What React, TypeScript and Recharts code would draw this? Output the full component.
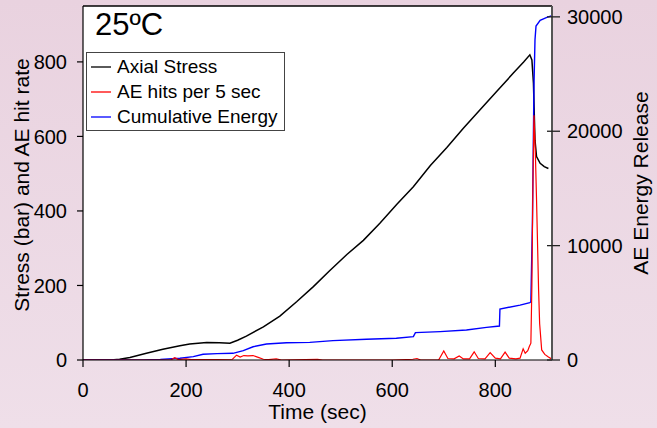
import React from 'react';
import { LineChart, Line, XAxis, YAxis, CartesianGrid, Legend, ReferenceLine, Label } from 'recharts';

// Axial stress (bar) vs time (sec)
const stressTime = [0, 40, 60, 71, 91, 123, 155, 188, 207, 240, 265, 285, 300, 317, 350, 382, 415, 447, 479, 512, 544, 576, 609, 641, 674, 706, 738, 770, 803, 835, 855, 867, 871, 874, 877, 880, 887, 895, 903];
const stressValue = [0, 0, 1, 2, 7, 18, 29, 38, 43, 47, 46, 45, 53, 64, 89, 118, 157, 197, 240, 283, 321, 367, 418, 465, 522, 570, 622, 671, 721, 770, 800, 819, 805, 743, 590, 546, 528, 519, 514];

// AE hits per 5 sec vs time
const hitsTime = [0, 170, 178, 185, 200, 210, 290, 298, 305, 312, 320, 330, 340, 350, 360, 375, 385, 455, 465, 600, 640, 648, 655, 690, 700, 708, 720, 730, 738, 750, 759, 767, 780, 790, 800, 810, 819, 827, 840, 848, 854, 858, 863, 866, 869, 871, 873, 875, 878, 880, 884, 886, 890, 896, 903, 909];
const hitsValue = [0, 0, 6, 1, 3, 1, 2, 13, 8, 12, 11, 12, 7, 2, 1, 3, 0, 2, 0, 0, 2, 4, 0, 0, 24, 4, 3, 11, 3, 3, 22, 4, 3, 20, 5, 3, 21, 5, 3, 5, 30, 18, 25, 36, 45, 200, 480, 657, 540, 430, 188, 98, 27, 15, 8, 3];

// Cumulative AE energy vs time
const energyTime = [0, 117, 150, 188, 214, 233, 260, 291, 311, 330, 356, 395, 440, 485, 550, 608, 641, 645, 693, 744, 783, 808, 809, 848, 867, 869, 872, 875, 877, 879, 887, 900, 910];
const energyValue = [0, 0, 50, 150, 290, 500, 560, 585, 815, 1160, 1400, 1510, 1545, 1690, 1810, 1900, 2040, 2390, 2480, 2620, 2850, 2970, 4460, 4800, 5010, 5100, 12000, 24000, 28000, 29200, 29700, 29950, 30100];

const timeTicks = [0, 200, 400, 600, 800];
const stressTicks = [0, 200, 400, 600, 800];
const energyTicks = [0, 10000, 20000, 30000];

const legendNames = ['Axial Stress', 'AE hits per 5 sec', 'Cumulative Energy'];
const legendColors = ['#000000', '#ff0000', '#0000ff'];

const stressData = stressTime.map((t, i) => ({ t, v: stressValue[i] }));
const hitsData = hitsTime.map((t, i) => ({ t, v: hitsValue[i] }));
const energyData = energyTime.map((t, i) => ({ t, v: energyValue[i] }));

const FONT = '"Liberation Sans", Arial, sans-serif';

const XTick = (props: any) => {
  const { x, y, payload } = props;
  return (
    <text x={x} y={y + 28} textAnchor="middle" fontSize={20} fontFamily={FONT} fill="#000">
      {payload.value}
    </text>
  );
};

const LeftTick = (props: any) => {
  const { x, y, payload } = props;
  return (
    <text x={x - 8} y={y} dy="0.36em" textAnchor="end" fontSize={20} fontFamily={FONT} fill="#000">
      {payload.value}
    </text>
  );
};

const RightTick = (props: any) => {
  const { x, y, payload } = props;
  return (
    <g>
      <line x1={x - 5} y1={y} x2={x + 8} y2={y} stroke="#222" strokeWidth={1.3} />
      <text x={x + 15} y={y} dy="0.36em" textAnchor="start" fontSize={20} fontFamily={FONT} fill="#000">
        {payload.value}
      </text>
    </g>
  );
};

const LegendBox = () => {
  return (
    <div
      style={{
        border: '1.3px solid #444',
        background: '#fff',
        width: 199,
        height: 79,
        boxSizing: 'border-box',
        fontFamily: FONT,
        fontSize: 19,
        color: '#000',
        paddingTop: 1,
      }}
    >
      {legendNames.map((name, i) => (
        <div key={name} style={{ display: 'flex', alignItems: 'center', height: 25, lineHeight: '25px' }}>
          <svg width={20} height={4} style={{ marginLeft: 4, marginRight: 6 }}>
            <line x1={0} y1={2} x2={20} y2={2} stroke={legendColors[i]} strokeWidth={1.3} />
          </svg>
          <span>{name}</span>
        </div>
      ))}
    </div>
  );
};

export default function App() {
  return (
    <div
      style={{
        position: 'absolute',
        left: 0,
        top: 0,
        width: 657,
        height: 428,
        background: 'linear-gradient(180deg, #e9d2df 0%, #efdfe9 100%)',
        overflow: 'hidden',
      }}
    >
      <LineChart width={657} height={428} margin={{ top: 6, right: 0, bottom: 0, left: 0 }}>
        <CartesianGrid horizontal={false} vertical={false} fill="#ffffff" />
        <XAxis
          dataKey="t"
          type="number"
          domain={[0, 910]}
          ticks={timeTicks}
          allowDataOverflow
          height={68}
          tickSize={7}
          tick={<XTick />}
          axisLine={{ stroke: '#000', strokeWidth: 1.2 }}
          tickLine={{ stroke: '#000', strokeWidth: 1.2 }}
        >
          <Label
            content={() => (
              <text x={317.5} y={419} textAnchor="middle" fontSize={21} fontFamily={FONT} fill="#000">
                Time (sec)
              </text>
            )}
          />
        </XAxis>
        <YAxis
          yAxisId="left"
          orientation="left"
          type="number"
          domain={[0, 950]}
          ticks={stressTicks}
          allowDataOverflow
          width={83}
          tickSize={6}
          tick={<LeftTick />}
          axisLine={{ stroke: '#000', strokeWidth: 1.2 }}
          tickLine={{ stroke: '#000', strokeWidth: 1.2 }}
        >
          <Label
            content={() => (
              <text
                x={29}
                y={185}
                transform="rotate(-90, 29, 185)"
                textAnchor="middle"
                fontSize={21}
                fontFamily={FONT}
                fill="#000"
              >
                Stress (bar) and AE hit rate
              </text>
            )}
          />
        </YAxis>
        <YAxis
          yAxisId="right"
          orientation="right"
          type="number"
          domain={[0, 30950]}
          ticks={energyTicks}
          allowDataOverflow
          width={105}
          tickSize={0}
          tickMargin={0}
          tickLine={false}
          tick={<RightTick />}
          axisLine={{ stroke: '#555', strokeWidth: 2 }}
        >
          <Label
            content={() => (
              <text
                x={648}
                y={183}
                transform="rotate(-90, 648, 183)"
                textAnchor="middle"
                fontSize={21}
                fontFamily={FONT}
                fill="#000"
              >
                AE Energy Release
              </text>
            )}
          />
        </YAxis>
        <ReferenceLine yAxisId="left" y={950} stroke="#000" strokeWidth={1.3} />
        <Line
          yAxisId="left"
          data={stressData}
          dataKey="v"
          name="Axial Stress"
          stroke="#000000"
          strokeWidth={1.5}
          dot={false}
          type="linear"
          isAnimationActive={false}
        />
        <Line
          yAxisId="right"
          data={energyData}
          dataKey="v"
          name="Cumulative Energy"
          stroke="#0000ff"
          strokeWidth={1.4}
          dot={false}
          type="linear"
          isAnimationActive={false}
        />
        <Line
          yAxisId="left"
          data={hitsData}
          dataKey="v"
          name="AE hits per 5 sec"
          stroke="#ff0000"
          strokeWidth={1.2}
          dot={false}
          type="linear"
          isAnimationActive={false}
        />
        <Legend
          layout="vertical"
          align="center"
          verticalAlign="middle"
          content={<LegendBox />}
          wrapperStyle={{ position: 'absolute', left: 86, top: 52, width: 199, height: 79, margin: 0 }}
        />
      </LineChart>
      <div
        style={{
          position: 'absolute',
          left: 95,
          top: 5,
          fontFamily: FONT,
          fontSize: 31,
          lineHeight: '40px',
          color: '#000',
        }}
      >
        25ºC
      </div>
    </div>
  );
}
